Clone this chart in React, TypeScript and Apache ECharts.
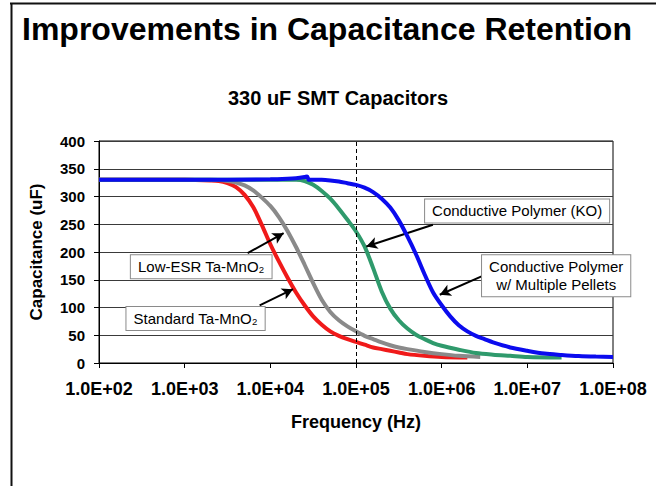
import React, { useEffect, useRef } from "react";
import * as echarts from "echarts";

const TITLE = "Improvements in Capacitance Retention";
const SUBTITLE = "330 uF SMT Capacitors";
const Y_NAME = "Capacitance (uF)";
const X_NAME = "Frequency (Hz)";
const X_TICK_LABELS = ["1.0E+02", "1.0E+03", "1.0E+04", "1.0E+05", "1.0E+06", "1.0E+07", "1.0E+08"];

// Frequencies are given as log10(Hz), values in uF
// Standard Ta-MnO2 (red)
const STD_LOGF = [2, 3, 3.3, 3.4, 3.5, 3.6, 3.7, 3.8, 3.9, 4.0, 4.1, 4.2, 4.3, 4.4, 4.5, 4.6, 4.7, 4.8, 4.9, 5.0, 5.1, 5.2, 5.3, 5.4, 5.5, 5.6, 5.8, 6.0, 6.3];
const STD_VAL = [330, 330, 329, 328, 324, 317, 303, 281, 249, 214, 183, 154, 127, 104, 84, 69, 57, 49, 43, 38, 33, 28, 25, 22, 19, 16, 13, 11, 10];

// Low-ESR Ta-MnO2 (grey)
const LOW_LOGF = [2, 3.3, 3.5, 3.6, 3.7, 3.8, 3.9, 4.0, 4.1, 4.2, 4.3, 4.4, 4.5, 4.6, 4.7, 4.8, 4.9, 5.0, 5.1, 5.2, 5.3, 5.4, 5.5, 5.6, 5.8, 6.0, 6.2, 6.45];
const LOW_VAL = [330, 330, 328, 325, 320, 311, 298, 283, 263, 238, 209, 177, 144, 114, 92, 77, 66, 57, 49, 43, 37, 32, 28, 25, 20, 16, 13, 11];

// Conductive Polymer (KO) (green)
const KO_LOGF = [2, 4.3, 4.4, 4.5, 4.6, 4.7, 4.8, 4.9, 5.0, 5.1, 5.2, 5.3, 5.4, 5.5, 5.6, 5.7, 5.8, 5.9, 6.0, 6.2, 6.4, 6.6, 6.8, 7.0, 7.4];
const KO_VAL = [330, 330, 328, 321, 310, 296, 278, 258, 237, 210, 171, 129, 98, 77, 62, 51, 43, 36, 31, 24, 18, 15, 13, 11, 10];

// Conductive Polymer w/ Multiple Pellets (blue)
const MP_LOGF = [2, 3, 4.0, 4.2, 4.3, 4.4, 4.43, 4.45, 4.6, 4.7, 4.8, 4.9, 5.0, 5.1, 5.2, 5.3, 5.4, 5.5, 5.6, 5.7, 5.8, 5.9, 6.0, 6.1, 6.2, 6.3, 6.4, 6.5, 6.6, 6.8, 7.0, 7.2, 7.4, 7.6, 7.8, 8.0];
const MP_VAL = [330, 330, 331, 332, 333, 335, 336, 330, 330, 329, 327, 324, 321, 316, 308, 296, 280, 257, 228, 196, 160, 127, 104, 84, 68, 57, 49, 43, 37, 28, 22, 17, 14.5, 12.5, 11.5, 11];

const REF_FREQ = 100000;

const LABEL_TEXTS = ["Low-ESR Ta-MnO\u2082", "Standard Ta-MnO\u2082", "Conductive Polymer (KO)", "Conductive Polymer\nw/ Multiple Pellets"];
const LABEL_AT: [number, number][] = [[1560, 173.5], [1340, 80.4], [7600000, 274], [21700000, 157]];
const ARROW_FROM: [number, number][] = [[5430, 198], [7500, 104], [790000, 249], [2920000, 156]];
const ARROW_TO: [number, number][] = [[14300, 234], [18400, 133], [132000, 210], [950000, 123]];

const FONT = '"Liberation Sans", Arial, Helvetica, sans-serif';

const pairs = (lf: number[], v: number[]) => lf.map((x, i) => [Math.pow(10, x), v[i]]);

export default function App() {
  const ref = useRef<HTMLDivElement>(null);
  useEffect(() => {
    if (!ref.current) return;
    const chart = echarts.init(ref.current, undefined, { renderer: "svg" });
    const line = (name: string, f: number[], v: number[], color: string, z: number) => ({
      name,
      type: "line",
      data: pairs(f, v),
      showSymbol: false,
      smooth: 0.3,
      z,
      lineStyle: { color, width: 4 },
      itemStyle: { color },
    });
    chart.setOption({
      animation: false,
      backgroundColor: "#fff",
      title: [
        {
          text: TITLE,
          left: 17,
          top: 8,
          textStyle: { fontFamily: FONT, fontWeight: "bold", fontSize: 32, color: "#000" },
        },
        {
          text: SUBTITLE,
          left: 333,
          textAlign: "center",
          top: 83,
          textStyle: { fontFamily: FONT, fontWeight: "bold", fontSize: 20, color: "#000" },
        },
      ],
      grid: {
        left: 99,
        right: 43,
        top: 141,
        bottom: 123,
        show: true,
        borderColor: "#000",
        borderWidth: 1,
        containLabel: false,
      },
      xAxis: {
        type: "log",
        logBase: 10,
        min: 100,
        max: 100000000,
        name: X_NAME,
        nameLocation: "middle",
        nameGap: 50,
        nameTextStyle: { fontFamily: FONT, fontWeight: "bold", fontSize: 18, color: "#000" },
        axisLine: { show: true, lineStyle: { color: "#000", width: 1 } },
        axisTick: { show: true, length: 5, lineStyle: { color: "#000" } },
        minorTick: { show: false },
        splitLine: { show: false },
        axisLabel: {
          margin: 17,
          fontFamily: FONT,
          fontWeight: "bold",
          fontSize: 18,
          color: "#000",
          formatter: (v: number) => X_TICK_LABELS[Math.round(Math.log10(v)) - 2] ?? "",
        },
      },
      yAxis: {
        type: "value",
        min: 0,
        max: 400,
        interval: 50,
        name: Y_NAME,
        nameLocation: "middle",
        nameGap: 54,
        nameTextStyle: { fontFamily: FONT, fontWeight: "bold", fontSize: 17, color: "#000" },
        axisLine: { show: true, lineStyle: { color: "#000", width: 1 } },
        axisTick: { show: true, length: 5, lineStyle: { color: "#000" } },
        splitLine: { show: true, lineStyle: { color: "#3a3a3a", width: 1 } },
        axisLabel: { margin: 14, fontFamily: FONT, fontWeight: "bold", fontSize: 15, color: "#000" },
      },
      series: [
        {
          ...line("Standard Ta-MnO2", STD_LOGF, STD_VAL, "#f01a1a", 2),
          markLine: {
            silent: true,
            symbol: ["none", "none"],
            label: { show: false },
            lineStyle: { type: [4, 3], color: "#000", width: 1 },
            data: [{ xAxis: REF_FREQ }],
          },
        },
        line("Low-ESR Ta-MnO2", LOW_LOGF, LOW_VAL, "#8a8a8a", 3),
        line("Conductive Polymer (KO)", KO_LOGF, KO_VAL, "#2f9a6c", 4),
        line("Conductive Polymer w/ Multiple Pellets", MP_LOGF, MP_VAL, "#0b0bee", 5),
        {
          name: "annotations",
          type: "line",
          data: [],
          z: 10,
          markLine: {
            silent: true,
            symbol: ["none", "arrow"],
            symbolSize: [9, 11],
            label: { show: false },
            lineStyle: { type: "solid", color: "#000", width: 2 },
            data: ARROW_FROM.map((a, i) => [{ coord: a }, { coord: ARROW_TO[i] }]),
          },
          markPoint: {
            silent: true,
            symbol: "rect",
            symbolSize: 1,
            itemStyle: { color: "rgba(0,0,0,0)" },
            label: {
              show: true,
              position: "inside",
              color: "#000",
              fontFamily: FONT,
              fontSize: 15,
              lineHeight: 18,
              align: "center",
              backgroundColor: "#fff",
              borderColor: "#8a8a8a",
              borderWidth: 1,
              padding: [3, 7, 2, 7],
            },
            data: LABEL_AT.map((c, i) => ({
              coord: c,
              value: 0,
              label: { formatter: LABEL_TEXTS[i] },
            })),
          },
        },
      ],
      graphic: [
        { type: "line", shape: { x1: 10, y1: 3.5, x2: 656, y2: 3.5 }, style: { stroke: "#111", lineWidth: 2 } },
        { type: "line", shape: { x1: 11.5, y1: 3, x2: 11.5, y2: 486 }, style: { stroke: "#111", lineWidth: 2 } },
      ],
    });
    return () => chart.dispose();
  }, []);
  return (
    <div
      ref={ref}
      style={{ position: "fixed", left: 0, top: 0, width: 656, height: 486, background: "#fff" }}
    />
  );
}
